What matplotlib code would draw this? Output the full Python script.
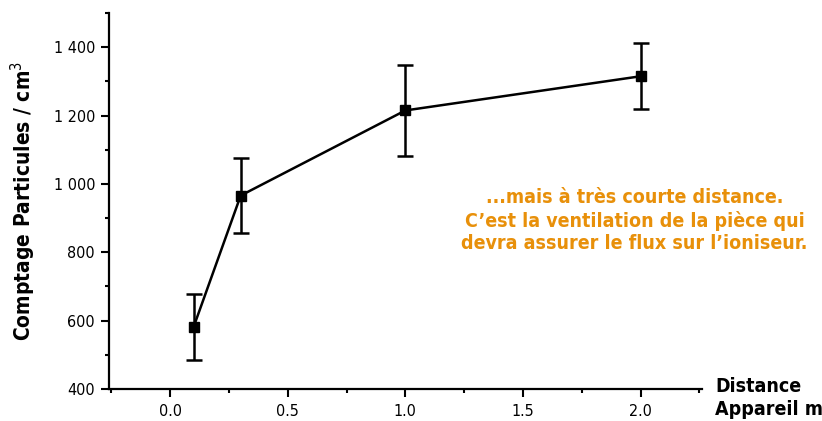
import matplotlib
matplotlib.use("Agg")
import matplotlib.pyplot as plt
from matplotlib.ticker import MultipleLocator, FuncFormatter

distance = [0.1, 0.3, 1.0, 2.0]
comptage = [582, 966, 1215, 1315]
erreur = [97, 110, 133, 96]
note = "...mais à très courte distance.\nC\u2019est la ventilation de la pièce qui\ndevra assurer le flux sur l\u2019ioniseur."

plt.rcParams['font.family'] = ['DejaVu Sans']
plt.rcParams['font.stretch'] = 'condensed'

fig = plt.figure(figsize=(8.22, 4.21), dpi=100)
ax = fig.add_axes([0.1326, 0.076, 0.721, 0.893])

ax.errorbar(distance, comptage, yerr=erreur, color='black', lw=1.8,
            marker='s', ms=7.5, capsize=5.5, capthick=1.8, elinewidth=1.8)

ax.set_xlim(-0.26, 2.26)
ax.set_ylim(400, 1500)
ax.xaxis.set_major_locator(MultipleLocator(0.5))
ax.xaxis.set_minor_locator(MultipleLocator(0.25))
ax.yaxis.set_major_locator(MultipleLocator(200))
ax.yaxis.set_minor_locator(MultipleLocator(100))
ax.yaxis.set_major_formatter(FuncFormatter(lambda v, p: f"{int(v):,}".replace(",", " ")))
ax.xaxis.set_major_formatter(FuncFormatter(lambda v, p: f"{v:.1f}"))

for s in ['top', 'right']:
    ax.spines[s].set_visible(False)
for s in ['left', 'bottom']:
    ax.spines[s].set_linewidth(1.6)
ax.tick_params(which='major', direction='out', length=6, width=1.5, labelsize=11.5)
ax.tick_params(which='minor', direction='out', length=3, width=1.5)
ax.tick_params(axis='x', pad=5)
ax.tick_params(axis='y', pad=4)

ax.set_ylabel("Comptage Particules / cm$^3$", fontsize=15, fontweight='bold', labelpad=11)
fig.text(0.870, 0.055, "Distance\nAppareil m", fontsize=14, fontweight='bold',
         ha='left', va='center', linespacing=1.3)

fig.text(0.772, 0.476, note, color='#E8900A', fontsize=14, fontweight='bold',
         ha='center', va='center', linespacing=1.25)

fig.savefig("out.png", dpi=100)
